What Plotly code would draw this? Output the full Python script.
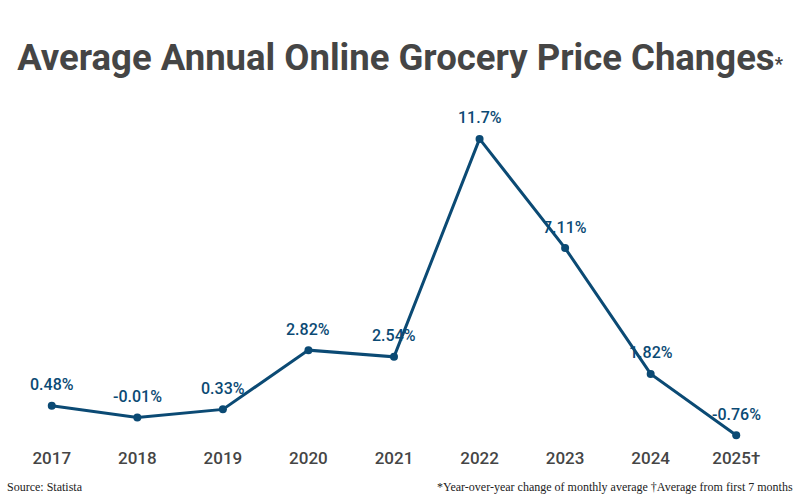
import plotly.graph_objects as go

# data
years = ["2017", "2018", "2019", "2020", "2021", "2022", "2023", "2024", "2025†"]
change_pct = [0.48, -0.01, 0.33, 2.82, 2.54, 11.7, 7.11, 1.82, -0.76]
labels = ["0.48%", "-0.01%", "0.33%", "2.82%", "2.54%", "11.7%", "7.11%", "1.82%", "-0.76%"]

line_color = "#0b4a74"
grey = "#454545"
x_pos = list(range(len(years)))

fig = go.Figure()
fig.add_trace(go.Scatter(
    x=x_pos,
    y=change_pct,
    mode="lines+markers",
    line=dict(color=line_color, width=3),
    marker=dict(color=line_color, size=8),
    hoverinfo="skip",
))

# value labels above each point
for xi, yi, lab in zip(x_pos, change_pct, labels):
    fig.add_annotation(
        x=xi, y=yi, text=lab,
        showarrow=False, yshift=21,
        font=dict(family="Roboto", size=16, color=line_color, weight=500),
    )

fig.update_layout(
    width=800,
    height=500,
    paper_bgcolor="white",
    plot_bgcolor="white",
    showlegend=False,
    margin=dict(l=9, r=21, t=108, b=59),
    title=dict(
        text="Average Annual Online Grocery Price Changes<span style='font-size:18px'>*</span>",
        x=0.5,
        xanchor="center",
        y=0.885,
        yanchor="middle",
        font=dict(family="Roboto", size=36.5, color=grey, weight="bold"),
    ),
    xaxis=dict(
        range=[-0.5, 8.5],
        tickmode="array",
        tickvals=x_pos,
        ticktext=years,
        showgrid=False,
        zeroline=False,
        showline=False,
        ticks="",
        ticklabelstandoff=5,
        tickfont=dict(family="Roboto", size=17, color=grey, weight=500),
    ),
    yaxis=dict(
        range=[-1.0, 13],
        visible=False,
    ),
)

fig.add_annotation(
    text="Source: Statista",
    xref="paper", yref="paper", x=0, y=0,
    xshift=-4, yshift=-46,
    xanchor="left", yanchor="middle",
    showarrow=False,
    font=dict(family="Liberation Serif", size=12, color="#222222"),
)
fig.add_annotation(
    text="*Year-over-year change of monthly average †Average from first 7 months",
    xref="paper", yref="paper", x=1, y=0,
    xshift=16, yshift=-46,
    xanchor="right", yanchor="middle",
    showarrow=False,
    font=dict(family="Liberation Serif", size=12, color="#222222"),
)

fig.write_html(
    "out.html",
    config={"displayModeBar": False},
    post_script="document.body.style.margin='0';",
)
